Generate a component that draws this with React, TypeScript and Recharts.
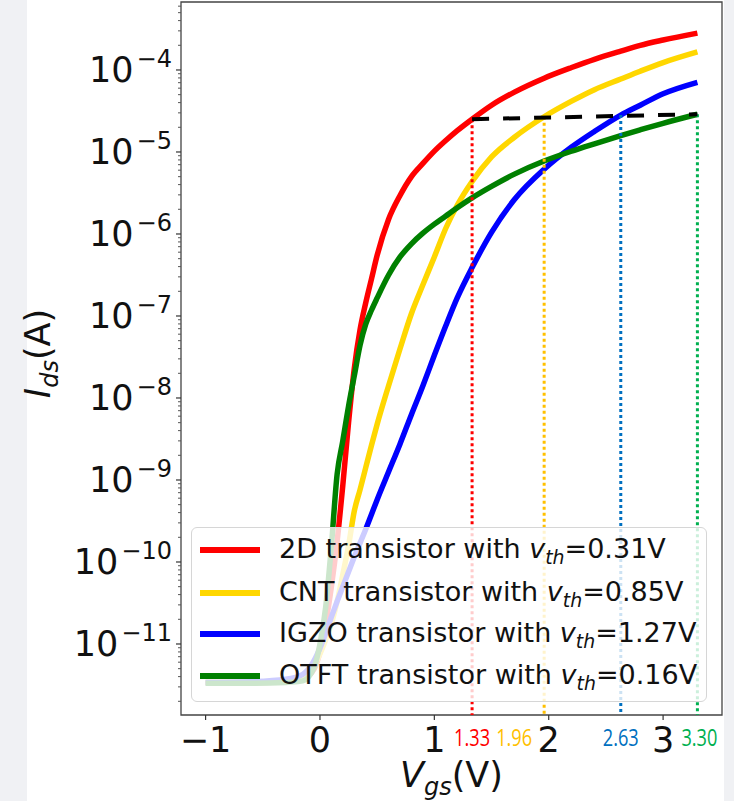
import React from "react";
import { LineChart, Line, XAxis, YAxis, ReferenceLine, ReferenceArea } from "recharts";

// gate voltage samples (V)
const vgs = [-1, -0.6, -0.3, -0.15, -0.05, 0, 0.05, 0.1, 0.15, 0.2, 0.25, 0.3, 0.35, 0.4, 0.45, 0.5, 0.6, 0.7, 0.8, 0.9, 1.0, 1.1, 1.2, 1.33, 1.5, 1.7, 1.96, 2.2, 2.4, 2.63, 2.8, 3.0, 3.3];

// log10(Ids / A)
const ids2D = [-11.47, -11.47, -11.46, -11.43, -11.3, -11.1, -10.75, -10.3, -9.75, -9.06, -8.3, -7.64, -7.17, -6.84, -6.55, -6.26, -5.82, -5.53, -5.3, -5.14, -4.99, -4.86, -4.74, -4.6, -4.43, -4.27, -4.1, -3.97, -3.87, -3.77, -3.7, -3.635, -3.55];
const idsCNT = [-11.47, -11.47, -11.46, -11.42, -11.27, -11.12, -10.95, -10.75, -10.48, -10.15, -9.8, -9.38, -9.12, -8.85, -8.58, -8.32, -7.85, -7.4, -6.97, -6.62, -6.28, -5.93, -5.65, -5.36, -5.06, -4.82, -4.57, -4.38, -4.24, -4.11, -4.015, -3.91, -3.78];
const idsIGZO = [-11.47, -11.46, -11.43, -11.37, -11.2, -11.05, -10.87, -10.67, -10.48, -10.3, -10.12, -9.94, -9.77, -9.6, -9.42, -9.24, -8.9, -8.56, -8.2, -7.85, -7.48, -7.12, -6.78, -6.41, -5.98, -5.58, -5.21, -4.94, -4.75, -4.55, -4.43, -4.29, -4.15];
const idsOTFT = [-11.48, -11.48, -11.47, -11.45, -11.28, -11.0, -10.55, -9.8, -8.93, -8.52, -8.1, -7.73, -7.36, -7.1, -6.93, -6.78, -6.5, -6.28, -6.12, -5.99, -5.88, -5.78, -5.68, -5.56, -5.42, -5.27, -5.11, -4.99, -4.9, -4.8, -4.73, -4.65, -4.54];

const seriesKeys = ["d2", "cnt", "igzo", "otft"];
const seriesNames = ["2D", "CNT", "IGZO", "OTFT"];
const seriesVth = ["0.31", "0.85", "1.27", "0.16"];
const seriesColors = ["#ff0000", "#ffd700", "#0000ff", "#008000"];

// voltage where each device reaches the reference current
const crossX = [1.33, 1.96, 2.63, 3.3];
const crossI = [-4.6, -4.57, -4.55, -4.54];
const crossLabels = ["1.33", "1.96", "2.63", "3.30"];
const crossColors = ["#ff0000", "#ffc000", "#0070c0", "#00b050"];
const crossLabelShift = [0, -30, 0, 2];

const xTicks = [-1, 0, 1, 2, 3];
const yMajor = [-11, -10, -9, -8, -7, -6, -5, -4];

const X_DOMAIN = [-1.215, 3.515];
const Y_DOMAIN = [-11.866, -3.171];

const yMinor: number[] = [];
for (let n = -12; n <= -4; n++) {
  for (let k = 2; k <= 9; k++) {
    const v = n + Math.log10(k);
    if (v > Y_DOMAIN[0] && v < Y_DOMAIN[1]) yMinor.push(v);
  }
}

const rows = vgs.map((v, i) => ({
  vgs: v,
  d2: ids2D[i],
  cnt: idsCNT[i],
  igzo: idsIGZO[i],
  otft: idsOTFT[i],
}));

const FONT = "DejaVu Sans";
const TICK_SIZE = 5;
const TICK_MARGIN = 5;
const CROSS_LABEL_W = 36;

function YTick({ x, y, payload }: any) {
  const v = payload.value;
  const axisX = x + TICK_SIZE + 4;
  const major = Number.isInteger(v);
  if (!major) {
    return <line x1={axisX} x2={axisX - 3} y1={y} y2={y} stroke="#555" strokeWidth={1} />;
  }
  return (
    <g>
      <line x1={axisX} x2={axisX - TICK_SIZE} y1={y} y2={y} stroke="#333" strokeWidth={1.2} />
      <text x={x} y={y + 12.5} textAnchor="end" fontSize={35} fill="#111" fontFamily={FONT}>
        10
        <tspan fontSize={24} dx={3} dy={-15}>
          {"\u2212" + Math.abs(v)}
        </tspan>
      </text>
    </g>
  );
}

function XTick({ x, y, payload }: any) {
  const v = payload.value;
  const axisY = y - TICK_SIZE - TICK_MARGIN;
  const i = crossX.indexOf(v);
  if (i >= 0) {
    return (
      <text
        x={x + crossLabelShift[i] - CROSS_LABEL_W / 2}
        y={axisY + 31}
        fontSize={23}
        textLength={CROSS_LABEL_W}
        lengthAdjust="spacingAndGlyphs"
        fill={crossColors[i]}
        fontFamily="Open Sans"
      >
        {crossLabels[i]}
      </text>
    );
  }
  return (
    <g>
      <line x1={x} x2={x} y1={axisY} y2={axisY + TICK_SIZE} stroke="#333" strokeWidth={1.2} />
      <text x={x} y={axisY + 37} textAnchor="middle" fontSize={35} fill="#111" fontFamily={FONT}>
        {v < 0 ? "\u2212" + Math.abs(v) : String(v)}
      </text>
    </g>
  );
}

function XTitle({ viewBox }: any) {
  const cx = viewBox.x + viewBox.width / 2;
  return (
    <text x={cx} y={viewBox.y + 72} textAnchor="middle" fontSize={35} fill="#111" fontFamily={FONT}>
      <tspan fontStyle="italic">V</tspan>
      <tspan fontStyle="italic" fontSize={24} dy={8}>gs</tspan>
      <tspan dy={-8}>(V)</tspan>
    </text>
  );
}

function YTitle({ viewBox }: any) {
  const cx = 50;
  const cy = viewBox.y + viewBox.height / 2 - 5;
  return (
    <text
      x={cx}
      y={cy}
      transform={`rotate(-90, ${cx}, ${cy})`}
      textAnchor="middle"
      fontSize={35}
      fill="#111"
      fontFamily={FONT}
    >
      <tspan fontStyle="italic">I</tspan>
      <tspan fontStyle="italic" fontSize={24} dy={8}>ds</tspan>
      <tspan dy={-8}>(A)</tspan>
    </text>
  );
}

function LegendBox() {
  const rowTop = [22, 65, 106, 148];
  return (
    <div
      style={{
        position: "absolute",
        left: 191,
        top: 527,
        width: 516,
        height: 175,
        background: "rgba(255,255,255,0.8)",
        border: "1px solid #d6d6d6",
        borderRadius: 6,
        boxSizing: "border-box",
        fontFamily: FONT,
        fontSize: 27,
        color: "#111",
      }}
    >
      {seriesNames.map((name, i) => (
        <div key={name}>
          <div
            style={{
              position: "absolute",
              left: 8,
              top: rowTop[i] - 3,
              width: 60,
              height: 6,
              background: seriesColors[i],
            }}
          />
          <div
            style={{
              position: "absolute",
              left: 87,
              top: rowTop[i] - 18,
              whiteSpace: "nowrap",
              lineHeight: "34px",
            }}
          >
            {name} transistor with <i>v</i>
            <sub style={{ fontSize: "0.7em", fontStyle: "italic", verticalAlign: "-0.3em" }}>th</sub>={seriesVth[i]}V
          </div>
        </div>
      ))}
    </div>
  );
}

export default function App() {
  return (
    <div
      style={{
        position: "fixed",
        left: 0,
        top: 0,
        width: 734,
        height: 801,
        background: "#f0f1f4",
        overflow: "hidden",
      }}
    >
      <div style={{ position: "absolute", left: 27, top: 0, width: 697, height: 801, background: "#fff" }} />
      <div style={{ position: "absolute", left: 0, top: 0 }}>
        <LineChart width={734} height={801} data={rows} margin={{ top: 2, right: 12, bottom: 0, left: 0 }}>
          <XAxis
            dataKey="vgs"
            type="number"
            domain={X_DOMAIN}
            ticks={[...xTicks, ...crossX]}
            interval={0}
            height={86}
            tickSize={TICK_SIZE}
            tickMargin={TICK_MARGIN}
            tickLine={false}
            axisLine={false}
            tick={<XTick />}
            allowDataOverflow
            label={{ content: XTitle }}
          />
          <YAxis
            type="number"
            domain={Y_DOMAIN}
            ticks={[...yMajor, ...yMinor]}
            interval={0}
            width={181}
            tickSize={TICK_SIZE}
            tickMargin={4}
            tickLine={false}
            axisLine={false}
            tick={<YTick />}
            allowDataOverflow
            label={{ content: YTitle }}
          />
          {seriesKeys.map((k, i) => (
            <Line
              key={k}
              dataKey={k}
              type="monotone"
              stroke={seriesColors[i]}
              strokeWidth={5.5}
              dot={false}
              activeDot={false}
              isAnimationActive={false}
            />
          ))}
          {crossX.map((cx, i) => (
            <ReferenceLine
              key={"v" + i}
              segment={[
                { x: cx, y: crossI[i] },
                { x: cx, y: Y_DOMAIN[0] },
              ]}
              stroke={crossColors[i]}
              strokeWidth={3}
              strokeDasharray="3 3"
            />
          ))}
          <ReferenceLine
            segment={[
              { x: crossX[0], y: crossI[0] },
              { x: crossX[3], y: crossI[3] },
            ]}
            stroke="#000"
            strokeWidth={4}
            strokeDasharray="17 14"
          />
          <ReferenceArea
            x1={X_DOMAIN[0]}
            x2={X_DOMAIN[1]}
            y1={Y_DOMAIN[0]}
            y2={Y_DOMAIN[1]}
            fill="none"
            stroke="#444"
            strokeWidth={1.3}
            ifOverflow="visible"
          />
        </LineChart>
      </div>
      <LegendBox />
    </div>
  );
}
